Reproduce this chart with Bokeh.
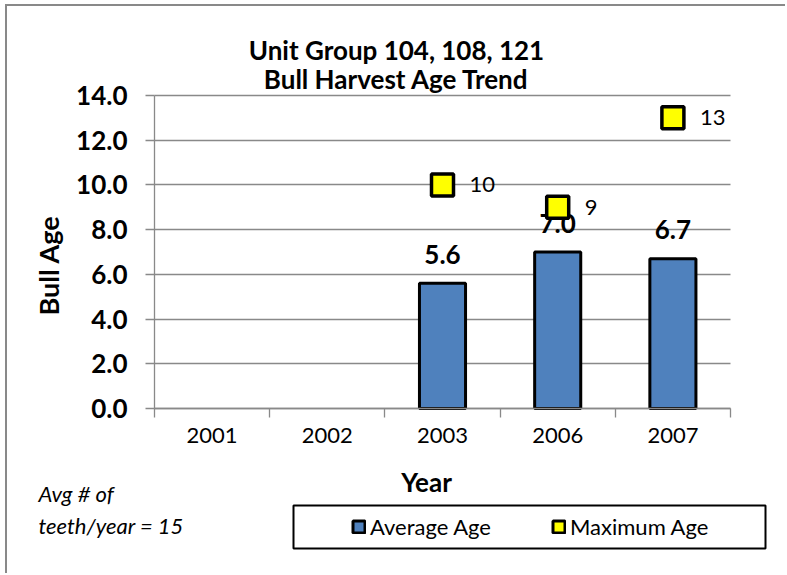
import numpy as np
from bokeh.plotting import figure
from bokeh.models import (Range1d, FixedTicker, NumeralTickFormatter, Label, Legend,
                          LegendItem, BoxAnnotation, ColumnDataSource, LinearAxis, Grid)
from bokeh.core.properties import value
from bokeh.embed import file_html
from bokeh.resources import INLINE

# ---- data ----
years = ["2001", "2002", "2003", "2006", "2007"]
data_years = ["2003", "2006", "2007"]
avg_age = [5.6, 7.0, 6.7]
max_age = [10, 9, 13]
y_ticks = [0, 2, 4, 6, 8, 10, 12, 14]
title_lines = ["Unit Group 104, 108, 121", "Bull Harvest Age Trend"]
note_lines = ["Avg # of", "teeth/year = 15"]
y_title = "Bull Age"
x_title = "Year"
series_names = ["Average Age", "Maximum Age"]

# ---- layout (pixels in the canvas) ----
FONT = "Lato"
GRAY = "#898989"
W, H = 780, 569
PL, PR, PT, PB = 147, 723, 89, 402          # plot area edges
Y_MAX = y_ticks[-1]
ppx = (PR - PL) / len(years)
ppy = (PB - PT) / Y_MAX


def X(px):   # canvas px -> data x
    return (px - PL) / ppx


def Y(py):   # canvas py -> data y
    return (PB - py) / ppy


x_pos = [years.index(y) + 0.5 for y in data_years]
src = ColumnDataSource(dict(
    x=x_pos, avg=avg_age, mx=max_age,
    avg_lbl=[f"{v:.1f}" for v in avg_age],
    mx_lbl=[str(v) for v in max_age]))

p = figure(width=W, height=H, output_backend="svg", toolbar_location=None,
           x_range=Range1d(X(0), X(W)), y_range=Range1d(Y(H), Y(0)),
           x_axis_location=None, y_axis_location=None,
           min_border_left=0, min_border_right=0, min_border_top=0,
           min_border_bottom=0)
p.styles = {"margin-left": "5px", "margin-top": "4px",
            "border-left": f"2px solid {GRAY}", "border-top": f"2px solid {GRAY}"}
p.outline_line_color = None
p.background_fill_color = "white"
p.border_fill_color = "white"
# drop any default grids
p.center = [r for r in p.center if not isinstance(r, Grid)]

# horizontal grid lines limited to the plot area
try:
    grid = Grid(dimension=1, ticker=FixedTicker(ticks=y_ticks), cross_bounds=(0, len(years)),
                grid_line_color=GRAY, grid_line_width=1.3)
    p.add_layout(grid)
except Exception:
    p.segment(x0=[0] * len(y_ticks), x1=[len(years)] * len(y_ticks), y0=y_ticks, y1=y_ticks,
              line_color=GRAY, line_width=1.3)

# y axis
ya = LinearAxis(fixed_location=0, bounds=(0, Y_MAX), ticker=FixedTicker(ticks=y_ticks),
                formatter=NumeralTickFormatter(format="0.0"))
ya.axis_line_color = GRAY
ya.axis_line_width = 1.3
ya.major_tick_line_color = GRAY
ya.major_tick_line_width = 1.3
ya.major_tick_out = 9
ya.major_tick_in = 0
ya.minor_tick_line_color = None
ya.major_label_text_font = FONT
ya.major_label_text_font_style = "bold"
ya.major_label_text_font_size = "26px"
ya.major_label_text_color = "black"
ya.major_label_standoff = 18
p.add_layout(ya, "left")

# x axis (ticks between categories, labels centred)
xa = LinearAxis(fixed_location=0, bounds=(0, len(years)),
                ticker=FixedTicker(ticks=[i + 0.5 for i in range(len(years))],
                                   minor_ticks=list(range(len(years) + 1))))
xa.major_label_overrides = {i + 0.5: y for i, y in enumerate(years)}
xa.axis_line_color = GRAY
xa.axis_line_width = 1.3
xa.major_tick_line_color = None
xa.minor_tick_line_color = GRAY
xa.minor_tick_line_width = 1.3
xa.minor_tick_out = 9
xa.minor_tick_in = 0
xa.major_label_text_font = FONT
xa.major_label_text_font_size = "22px"
xa.major_label_text_color = "black"
xa.major_label_standoff = 10
p.add_layout(xa, "below")

# bars and markers
bars = p.vbar(x="x", top="avg", width=0.4, source=src, fill_color="#4F81BD",
              line_color="black", line_width=3)
p.text(x="x", y="avg", text="avg_lbl", source=src, text_align="center",
       text_baseline="alphabetic", y_offset=-29, text_font=value(FONT),
       text_font_style="bold", text_font_size="26px", text_color="black")
pts = p.scatter(x="x", y="mx", source=src, marker="square", size=22,
                fill_color="#FFFF00", line_color="black", line_width=3.5)
p.text(x="x", y="mx", text="mx_lbl", source=src, text_align="left",
       text_baseline="middle", x_offset=27, text_font=value(FONT),
       text_font_size="22px", text_color="black")
# proxy (not visible in the plot) used only for the legend swatch of the markers
proxy = p.vbar(x=x_pos[:1], top=np.array([np.nan]), width=0.4, fill_color="#FFFF00",
               line_color="black", line_width=3)

# title
for t, py in zip(title_lines, [49 - 6, 78 - 6]):
    p.add_layout(Label(x=X(396 - 7), y=Y(py), text=t, text_align="center",
                       text_baseline="alphabetic", text_font=FONT,
                       text_font_style="bold", text_font_size="26px",
                       text_color="black"))
# axis titles
p.add_layout(Label(x=X(48 - 7), y=Y(265 - 6), text=y_title, angle=1.5708,
                   text_align="center", text_baseline="middle", text_font=FONT,
                   text_font_style="bold", text_font_size="27px", text_color="black"))
p.add_layout(Label(x=X(426 - 7), y=Y(481 - 6), text=x_title, text_align="center",
                   text_baseline="alphabetic", text_font=FONT,
                   text_font_style="bold", text_font_size="26px", text_color="black"))
# note
for t, py in zip(note_lines, [493 - 6, 525 - 6]):
    p.add_layout(Label(x=X(38 - 7), y=Y(py), text=t, text_align="left",
                       text_baseline="alphabetic", text_font=FONT,
                       text_font_style="italic", text_font_size="22px",
                       text_color="black"))

# legend box and legend
p.add_layout(BoxAnnotation(left=X(293 - 7), right=X(765 - 7), top=Y(505 - 6),
                           bottom=Y(548 - 6), fill_alpha=0, line_color="black",
                           line_alpha=1, line_width=2, level="overlay"))
legend = Legend(items=[LegendItem(label=series_names[0], renderers=[bars]),
                       LegendItem(label=series_names[1], renderers=[proxy])],
                orientation="horizontal", location=(351 - 7, H - (540 - 6)),
                border_line_color=None, background_fill_alpha=0, padding=0,
                margin=0, spacing=60, label_standoff=4, glyph_width=15,
                glyph_height=15, label_text_font=FONT,
                label_text_font_size="22px", label_text_color="black")
p.add_layout(legend, "center")

open("out.html", "w").write(file_html(p, INLINE))
